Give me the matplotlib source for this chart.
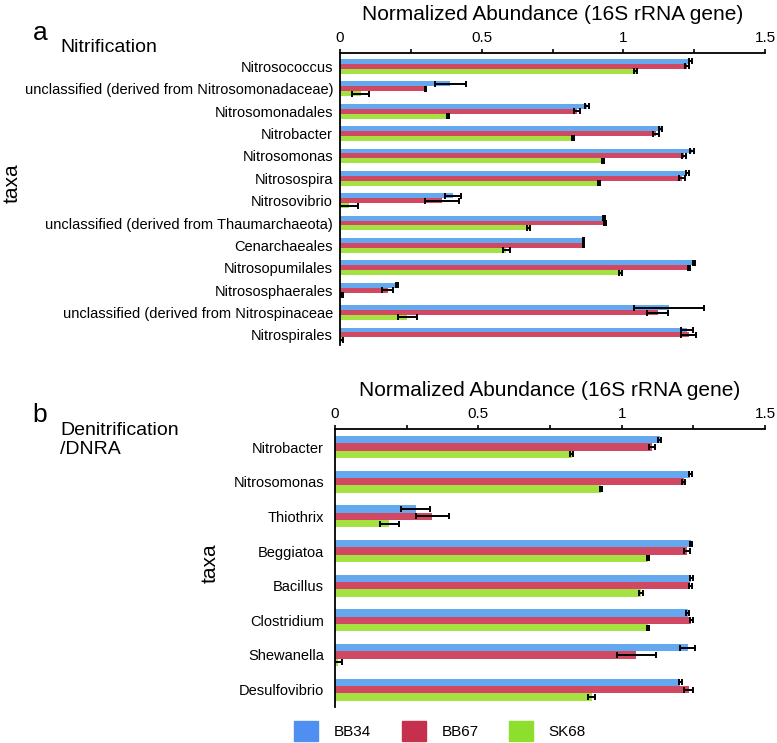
import numpy as np
import matplotlib
matplotlib.use("Agg")
import matplotlib.pyplot as plt
import matplotlib.patches as mpatches

plt.rcParams['font.family'] = ['Liberation Sans', 'DejaVu Sans']

# panel a: nitrification taxa
taxa_a = ["Nitrosococcus", "unclassified (derived from Nitrosomonadaceae)",
          "Nitrosomonadales", "Nitrobacter", "Nitrosomonas", "Nitrosospira",
          "Nitrosovibrio", "unclassified (derived from Thaumarchaeota)",
          "Cenarchaeales", "Nitrosopumilales", "Nitrososphaerales",
          "unclassified (derived from Nitrospinaceae", "Nitrospirales"]
bb34_a = [1.237, 0.389, 0.871, 1.132, 1.243, 1.225, 0.40, 0.933, 0.859, 1.249, 0.201, 1.161, 1.225]
bb34_a_err = [0.006, 0.054, 0.008, 0.005, 0.006, 0.005, 0.028, 0.004, 0.003, 0.004, 0.004, 0.122, 0.02]
bb67_a = [1.223, 0.302, 0.836, 1.115, 1.214, 1.206, 0.36, 0.935, 0.859, 1.231, 0.168, 1.121, 1.231]
bb67_a_err = [0.007, 0.003, 0.01, 0.01, 0.008, 0.01, 0.06, 0.004, 0.003, 0.004, 0.02, 0.038, 0.027]
sk68_a = [1.043, 0.073, 0.381, 0.822, 0.929, 0.914, 0.03, 0.666, 0.587, 0.99, 0.006, 0.238, 0.006]
sk68_a_err = [0.005, 0.029, 0.004, 0.004, 0.003, 0.003, 0.035, 0.005, 0.013, 0.004, 0.004, 0.035, 0.005]

# panel b: denitrification / DNRA taxa
taxa_b = ["Nitrobacter", "Nitrosomonas", "Thiothrix", "Beggiatoa", "Bacillus",
          "Clostridium", "Shewanella", "Desulfovibrio"]
bb34_b = [1.133, 1.24, 0.282, 1.242, 1.243, 1.23, 1.231, 1.205]
bb34_b_err = [0.005, 0.006, 0.051, 0.004, 0.005, 0.005, 0.026, 0.004]
bb67_b = [1.106, 1.216, 0.34, 1.228, 1.24, 1.243, 1.051, 1.234]
bb67_b_err = [0.01, 0.005, 0.058, 0.01, 0.006, 0.005, 0.069, 0.015]
sk68_b = [0.825, 0.927, 0.19, 1.091, 1.068, 1.091, 0.01, 0.895]
sk68_b_err = [0.004, 0.003, 0.032, 0.004, 0.007, 0.004, 0.015, 0.011]

series = ["BB34", "BB67", "SK68"]
bar_colors = ['#64A9EF', '#D04862', '#A4E244']
legend_colors = ['#4F8FF2', '#C6304C', '#8EDE2E']

xlabel = "Normalized Abundance (16S rRNA gene)"


def draw_panel(ax, taxa, vals, errs, bh, label_pad):
    y = np.arange(len(taxa))
    for i, (v, e) in enumerate(zip(vals, errs)):
        ax.barh(y + (i - 1) * bh, v, height=bh, color=bar_colors[i],
                xerr=e, error_kw=dict(ecolor='black', elinewidth=1.4,
                                      capsize=2.3, capthick=1.4))
    ax.set_yticks(y)
    ax.set_yticklabels(taxa, fontsize=10.5)
    ax.tick_params(axis='y', length=0, pad=label_pad)
    ax.set_xlim(0, 1.5)
    ax.set_xticks([0, 0.5, 1, 1.5])
    ax.set_xticklabels(["0", "0.5", "1", "1.5"])
    ax.set_xticks([0.25, 0.75, 1.25], minor=True)
    ax.xaxis.tick_top()
    ax.xaxis.set_label_position('top')
    ax.tick_params(axis='x', which='both', direction='out', length=2.8,
                   width=1.2, labelsize=11, pad=3)
    ax.set_xlabel(xlabel, fontsize=15, labelpad=8)
    ax.spines['bottom'].set_visible(False)
    ax.spines['right'].set_visible(False)
    ax.spines['top'].set_linewidth(1.3)
    ax.spines['left'].set_linewidth(1.3)


fig = plt.figure(figsize=(7.77, 7.43), dpi=100)

ax_a = fig.add_axes([340 / 777, 0.5357, 425 / 777, 0.393])
draw_panel(ax_a, taxa_a, [bb34_a, bb67_a, sk68_a],
           [bb34_a_err, bb67_a_err, sk68_a_err], 0.22, 5)
ax_a.set_ylim(len(taxa_a) - 1 + 0.45, -0.6)

ax_b = fig.add_axes([335 / 777, 0.0485, 430 / 777, 0.3741])
draw_panel(ax_b, taxa_b, [bb34_b, bb67_b, sk68_b],
           [bb34_b_err, bb67_b_err, sk68_b_err], 0.21, 8)
ax_b.set_ylim(len(taxa_b) - 1 + 0.5, -0.52)

# panel letters, headings and axis names
fig.text(33 / 777, 1 - 33 / 743, "a", fontsize=19, va='center', ha='left')
fig.text(60 / 777, 1 - 48 / 743, "Nitrification", fontsize=14, va='center', ha='left')
fig.text(12 / 777, 1 - 183 / 743, "taxa", fontsize=15, rotation=90, va='center', ha='center')

fig.text(32 / 777, 1 - 415 / 743, "b", fontsize=19, va='center', ha='left')
fig.text(60 / 777, 1 - 440 / 743, "Denitrification\n/DNRA", fontsize=14,
         va='center', ha='left', linespacing=1.15)
fig.text(210 / 777, 1 - 563 / 743, "taxa", fontsize=15, rotation=90, va='center', ha='center')

handles = [mpatches.Patch(color=c, label=s) for c, s in zip(legend_colors, series)]
fig.legend(handles=handles, loc='center', bbox_to_anchor=(440 / 777, 1 - 731 / 743),
           ncol=3, frameon=False, fontsize=11, handlelength=1.6, handleheight=1.6,
           handletextpad=1.0, columnspacing=2.0)

fig.savefig("out.png", dpi=100)
